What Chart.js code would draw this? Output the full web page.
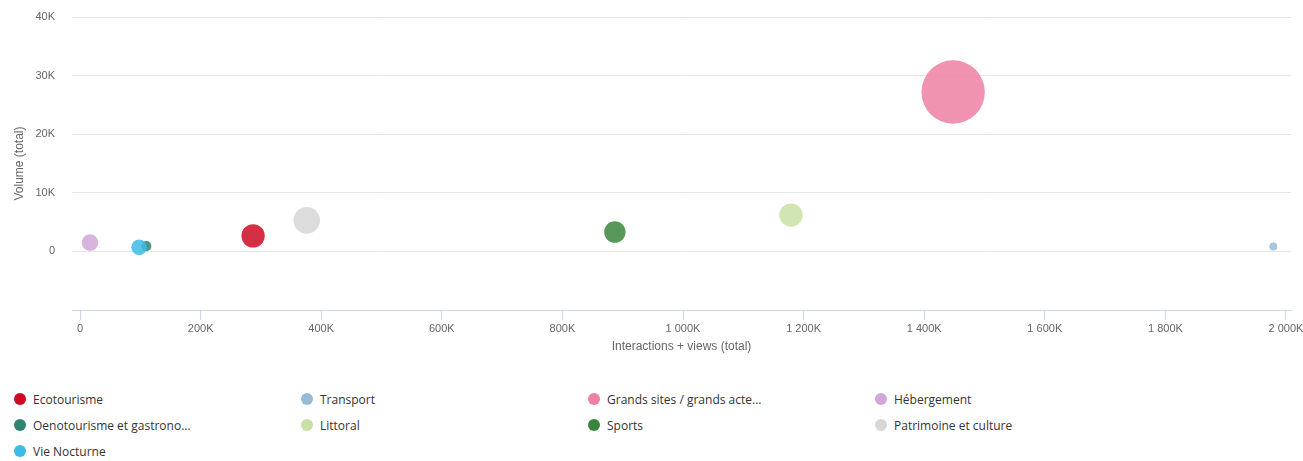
<!DOCTYPE html>
<html>
<head>
<meta charset="utf-8">
<script src="https://cdn.jsdelivr.net/npm/chart.js@4/dist/chart.umd.min.js"></script>
<style>
  body { margin: 0; background: #fff; }
  #wrap { position: relative; width: 1303px; height: 461px; overflow: hidden; }
  #legend {
    position: absolute; left: 14px; top: 386px;
    display: grid; grid-template-columns: repeat(4, 287px); grid-auto-rows: 26px;
    font-family: "Open Sans", sans-serif; font-size: 12px; color: #333;
  }
  .item { display: flex; align-items: center; white-space: nowrap; }
  .dot { width: 12px; height: 12px; border-radius: 50%; margin-right: 7px; flex: none; }
</style>
</head>
<body>
<div id="wrap">
  <canvas id="chart" width="1303" height="365"></canvas>
  <div id="legend"></div>
</div>
<script>
// categories, in legend order
const categories = [
  'Ecotourisme', 'Transport', 'Grands sites / grands acte...', 'Hébergement',
  'Oenotourisme et gastrono...', 'Littoral', 'Sports', 'Patrimoine et culture',
  'Vie Nocturne'
];
const colors = [
  '#cd0a22', '#96bcd5', '#ed80a3', '#cfa7d8',
  '#2f8470', '#c7e0a7', '#3a853c', '#d6d6d6',
  '#3dbbe8'
];
// interactions + views (x), volume (y), bubble weight (z)
const interactions = [287000, 1979000, 1448000, 16500, 110000, 1179000, 887000, 376000, 98000];
const volume = [2650, 850, 27200, 1500, 900, 6200, 3300, 5300, 700];
const weight = [8600, 1000, 100000, 3400, 1130, 8600, 6800, 12200, 2900];

const xTicks = [0, 200000, 400000, 600000, 800000, 1000000, 1200000, 1400000, 1600000, 1800000, 2000000];
const yTicks = [-10000, 0, 10000, 20000, 30000, 40000];

const fmtK = (v) => {
  if (v === 0) return '0';
  return String(v / 1000).replace(/\B(?=(\d{3})+(?!\d))/g, ' ') + 'K';
};

// bubble radius by area, between min and max size
const zMin = Math.min(...weight), zMax = Math.max(...weight);
const radius = (z) => 4 + Math.sqrt((z - zMin) / (zMax - zMin)) * 27.7;

const withAlpha = (hex, a) => {
  const n = parseInt(hex.slice(1), 16);
  return `rgba(${n >> 16}, ${(n >> 8) & 255}, ${n & 255}, ${a})`;
};

const datasets = categories.map((name, i) => ({
  label: name,
  data: [{ x: interactions[i], y: volume[i], r: radius(weight[i]) }],
  backgroundColor: withAlpha(colors[i], 0.85),
  borderWidth: 0,
  hoverBorderWidth: 0,
  order: name === 'Vie Nocturne' ? -1 : 0,
}));

const tickFont = { family: '"Liberation Sans", Arial, sans-serif', size: 11 };
const titleFont = { family: '"Liberation Sans", Arial, sans-serif', size: 12 };

new Chart(document.getElementById('chart'), {
  type: 'bubble',
  data: { datasets },
  options: {
    responsive: false,
    animation: false,
    layout: { autoPadding: false, padding: { top: 17, right: 12, left: 0, bottom: 0 } },
    plugins: { legend: { display: false }, tooltip: { enabled: false } },
    scales: {
      x: {
        type: 'linear',
        min: -13300,
        max: 2008300,
        afterBuildTicks: (scale) => { scale.ticks = xTicks.map(v => ({ value: v })); },
        afterFit: (scale) => {
          scale.height = 55;
          // let the end labels overflow instead of shrinking the plot
          scale.paddingLeft = 0;
          scale.paddingRight = 0;
        },
        border: { display: true, color: '#ccd6eb', width: 1 },
        grid: { drawOnChartArea: false, drawTicks: true, tickLength: 10, color: '#ccd6eb' },
        ticks: { color: '#666', font: tickFont, padding: 2, maxRotation: 0, callback: (v) => fmtK(v) },
        title: { display: true, text: 'Interactions + views (total)', color: '#666', font: titleFont, padding: { top: 4, bottom: 11 } },
      },
      y: {
        type: 'linear',
        min: -10000,
        max: 40000,
        afterBuildTicks: (scale) => { scale.ticks = yTicks.map(v => ({ value: v })); },
        afterFit: (scale) => {
          scale.width = 72;
          scale.paddingTop = 0;
          scale.paddingBottom = 0;
        },
        border: { display: false },
        grid: {
          drawTicks: false,
          color: (ctx) => (ctx.tick && ctx.tick.value < 0 ? 'rgba(0,0,0,0)' : '#e6e6e6'),
        },
        ticks: { color: '#666', font: tickFont, padding: 17, callback: (v) => (v < 0 ? '' : fmtK(v)) },
        title: { display: true, text: 'Volume (total)', color: '#666', font: titleFont, padding: { top: 12, bottom: 0 } },
      },
    },
  },
});

// html legend, four columns
const legend = document.getElementById('legend');
categories.forEach((name, i) => {
  const item = document.createElement('div');
  item.className = 'item';
  item.innerHTML = `<span class="dot" style="background:${colors[i]}"></span><span>${name}</span>`;
  legend.appendChild(item);
});
</script>
</body>
</html>
